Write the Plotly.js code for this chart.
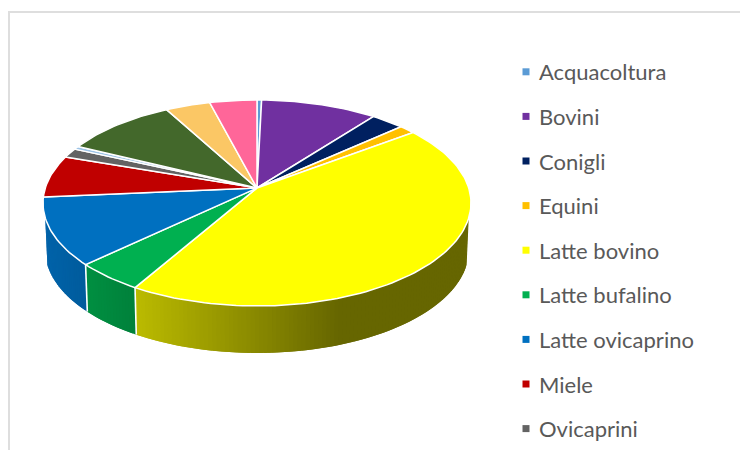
<!DOCTYPE html>
<html>
<head>
<meta charset="utf-8">
<script src="https://cdn.plot.ly/plotly-3.0.1.min.js"></script>
<style>
  html, body { margin: 0; padding: 0; background: #fff; }
  #chart { width: 740px; height: 450px; }
  /* tighten the gap between legend swatches and their labels */
  .legend .legendpoints { transform: translateX(7px); }
</style>
</head>
<body>
<div id="chart"></div>
<script>
// Named legend entries and their shares (percent)
const categories = ["Acquacoltura", "Bovini", "Conigli", "Equini", "Latte bovino",
  "Latte bufalino", "Latte ovicaprino", "Miele", "Ovicaprini"];
const values = [0.4, 10.1, 2.9, 1.4, 43.6, 4.6, 10.6, 6.6, 1.5];
const colors = ["#5B9BD5", "#7030A0", "#002060", "#FFC000", "#FFFF00",
  "#00B050", "#0070C0", "#C00000", "#636363"];

// Remaining slices, whose legend rows fall below the page edge
const otherValues = [0.5, 9.8, 3.9, 4.1];
const otherColors = ["#9DC3E6", "#43682B", "#FBC765", "#FF6699"];

// Projected disc: a circle seen from above through a weak perspective
const disc = { cx: 257, cy: 203, a: 103, b: -15, c: -0.1456, k: 211.7 };
const wall = { depth: 47, shrink: 0.99, from: 106.5, to: 253.5, step: 1 };

function rimPoint(deg) {
  const t = deg * Math.PI / 180;
  const X = Math.sin(t), Y = -Math.cos(t);
  const w = 1 + disc.c * Y;
  return [disc.cx + disc.k * X / w, disc.cy + (disc.a * Y + disc.b) / w];
}
function basePoint(deg) {
  const p = rimPoint(deg);
  return [disc.cx + (p[0] - disc.cx) * wall.shrink, p[1] + wall.depth];
}
function wallShade(x) {
  return Math.max(0.4, 0.88 - 0.00163 * (x - 45));
}
function shaded(hex, f) {
  const n = parseInt(hex.slice(1), 16);
  const ch = [(n >> 16) & 255, (n >> 8) & 255, n & 255].map(v => Math.round(v * f));
  return `rgb(${ch[0]},${ch[1]},${ch[2]})`;
}

const allValues = values.concat(otherValues);
const allColors = colors.concat(otherColors);
const total = allValues.reduce((s, v) => s + v, 0);

// Cumulative slice boundaries, clockwise from twelve o'clock
const edges = [0];
allValues.forEach(v => edges.push(edges[edges.length - 1] + v / total * 360));

const traces = [];
const polygon = (xs, ys, fill, line, width) => traces.push({
  type: "scatter", mode: "lines", x: xs, y: ys, fill: "toself", fillcolor: fill,
  line: { color: line, width: width }, hoverinfo: "skip", showlegend: false
});

// Side wall: overlapping strips carrying the shading, so no seams show between them
allValues.forEach((v, i) => {
  const start = Math.max(edges[i], wall.from);
  const end = Math.min(edges[i + 1], wall.to);
  for (let a = start; a < end; a += wall.step) {
    const b = Math.min(a + 2 * wall.step, end);
    const mid = rimPoint(a + wall.step / 2);
    const p = [rimPoint(a), rimPoint((a + b) / 2), rimPoint(b), basePoint(b), basePoint((a + b) / 2), basePoint(a)];
    polygon(p.map(q => q[0]), p.map(q => q[1]), shaded(allColors[i], wallShade(mid[0])), "rgba(0,0,0,0)", 0);
  }
});

// White seams where slices meet on the wall
edges.forEach(e => {
  if (e > wall.from && e < wall.to) {
    const p = rimPoint(e), q = basePoint(e);
    traces.push({ type: "scatter", mode: "lines", x: [p[0], q[0]], y: [p[1], q[1]],
      line: { color: "#fff", width: 1.6 }, hoverinfo: "skip", showlegend: false });
  }
});

// Top face of each slice
const hub = [disc.cx, disc.cy + disc.b];
allValues.forEach((v, i) => {
  const xs = [hub[0]], ys = [hub[1]];
  const n = Math.max(2, Math.ceil((edges[i + 1] - edges[i]) / 1.5));
  for (let j = 0; j <= n; j++) {
    const p = rimPoint(edges[i] + (edges[i + 1] - edges[i]) * j / n);
    xs.push(p[0]); ys.push(p[1]);
  }
  xs.push(hub[0]); ys.push(hub[1]);
  polygon(xs, ys, allColors[i], "#fff", 1.5);
});

// Legend rows
categories.forEach((name, i) => traces.push({
  type: "scatter", mode: "markers", x: [null], y: [null], name: name, legendgroup: name,
  marker: { symbol: "square", size: 7, color: colors[i] }, hoverinfo: "skip"
}));

const frame = { type: "line", xref: "paper", yref: "paper", line: { color: "#DEDEDE", width: 2 } };
const layout = {
  width: 740, height: 450, autosize: false,
  margin: { l: 0, r: 0, t: 0, b: 0 },
  paper_bgcolor: "#fff", plot_bgcolor: "#fff",
  xaxis: { range: [0, 740], visible: false, fixedrange: true },
  yaxis: { range: [450, 0], visible: false, fixedrange: true },
  showlegend: true,
  legend: {
    x: 499 / 740, xanchor: "left", y: 1 - 58 / 450, yanchor: "top",
    font: { family: "Lato, sans-serif", size: 22, color: "#595959" },
    tracegroupgap: 13, bgcolor: "rgba(0,0,0,0)", itemclick: false, itemdoubleclick: false
  },
  shapes: [
    Object.assign({}, frame, { x0: 9 / 740, x1: 9 / 740, y0: 0, y1: 1 - 12 / 450 }),
    Object.assign({}, frame, { x0: 8 / 740, x1: 1, y0: 1 - 12 / 450, y1: 1 - 12 / 450 })
  ]
};
Plotly.newPlot("chart", traces, layout, { displayModeBar: false, staticPlot: false });
</script>
</body>
</html>
